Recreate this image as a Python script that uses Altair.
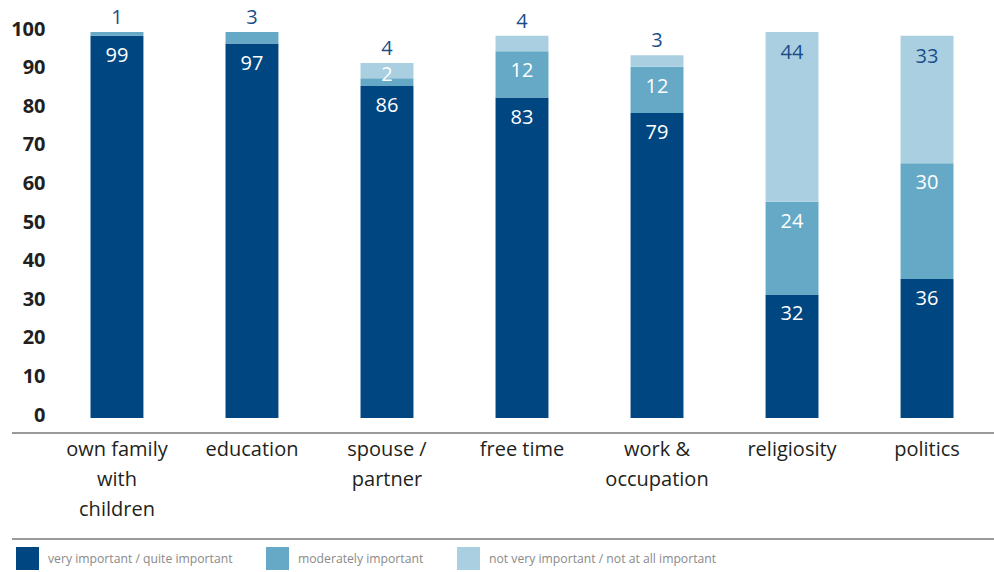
import altair as alt
import pandas as pd

categories = ["own family\nwith\nchildren", "education", "spouse /\npartner", "free time",
              "work &\noccupation", "religiosity", "politics"]
segments = ["very important / quite important", "moderately important",
            "not very important / not at all important"]
very_important = [99, 97, 86, 83, 79, 32, 36]
moderately_important = [1, 3, 2, 12, 12, 24, 30]
not_important = [0, 0, 4, 4, 3, 44, 33]
y_ticks = list(range(0, 101, 10))

colors = ["#004681", "#65a9c7", "#aacfe0"]
label_dark = "#1a4d8a"
font = "Open Sans"

rows = []
for i, cat in enumerate(categories):
    vals = [very_important[i], moderately_important[i], not_important[i]]
    top = max(j for j, v in enumerate(vals) if v > 0)
    lo = 0
    for j, v in enumerate(vals):
        if v == 0:
            continue
        hi = lo + v
        if v >= 5:
            kind = "in_white" if j < 2 else "in_dark"
        elif j == top:
            kind = "above"
        else:
            kind = "small_in"
        rows.append({"category": cat, "segment": segments[j], "idx": j,
                     "value": v, "lo": lo, "hi": hi, "kind": kind})
        lo = hi
df = pd.DataFrame(rows)

W, H = 944, 386

xaxis = alt.Axis(title=None, labelAngle=0, labelFontSize=20, labelColor="#231f20",
                 labelFont=font, domain=False, ticks=False, labelPadding=21,
                 labelBaseline="top", labelLineHeight=30,
                 labelExpr="split(datum.label, '\\n')")
yaxis = alt.Axis(title=None, values=y_ticks, labelFontSize=20, labelFontWeight="bold",
                 labelColor="#231f20", labelFont=font, domain=False, ticks=False,
                 grid=False, labelPadding=5, labelOffset=-3, labelOverlap=False)
xscale = alt.Scale(paddingInner=0.608, paddingOuter=0.3)
yscale = alt.Scale(domain=[0, 100], nice=False, zero=True)

base = alt.Chart(df)

bars = base.mark_bar().encode(
    x=alt.X("category:N", sort=categories, scale=xscale, axis=xaxis),
    y=alt.Y("lo:Q", scale=yscale, axis=yaxis),
    y2="hi:Q",
    color=alt.Color("segment:N", scale=alt.Scale(domain=segments, range=colors),
                    legend=alt.Legend(title=None, orient="none", legendX=-34, legendY=515,
                                      direction="horizontal", symbolType="square",
                                      symbolSize=529, symbolStrokeWidth=0, symbolOpacity=1,
                                      labelFontSize=12.2, labelColor="#8a8a8a", labelFont=font,
                                      labelLimit=500, labelOffset=9, columnPadding=33)),
    order=alt.Order("idx:Q"),
)

def text_layer(kind, color, dy):
    return base.transform_filter(alt.datum.kind == kind).mark_text(
        color=color, dy=dy, baseline="middle", fontSize=20, font=font
    ).encode(x=alt.X("category:N", sort=categories, scale=xscale, axis=xaxis),
             y=alt.Y("hi:Q", scale=yscale, axis=yaxis), text="value:Q")

t1 = text_layer("in_white", "white", 20)
t2 = text_layer("in_dark", label_dark, 21)
t3 = text_layer("above", label_dark, -14)
t4 = text_layer("small_in", "white", -3)

line_df = pd.DataFrame({"k": [0]})
rule1 = alt.Chart(line_df).mark_rule(color="#9a9a9a", strokeWidth=2).encode(
    x=alt.value(-38), x2=alt.value(W), y=alt.value(401))
rule2 = alt.Chart(line_df).mark_rule(color="#9a9a9a", strokeWidth=2).encode(
    x=alt.value(-38), x2=alt.value(W), y=alt.value(507))

chart = alt.layer(bars, t1, t2, t3, t4, rule1, rule2).properties(
    width=W, height=H,
    autosize=alt.AutoSizeParams(type="none"),
    padding={"left": 50, "top": 32, "right": 0, "bottom": 154},
).configure_view(stroke=None).configure_axisY(labelOverlap=False)

chart.save("out.html", embed_options={"renderer": "svg", "actions": False})
